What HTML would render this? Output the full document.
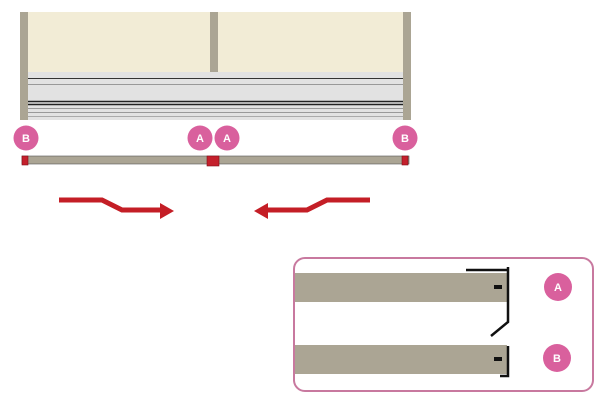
<!DOCTYPE html>
<html><head><style>
body{margin:0;width:603px;height:407px;background:#fff;overflow:hidden}
</style></head><body>
<svg width="603" height="407" viewBox="0 0 603 407" xmlns="http://www.w3.org/2000/svg" font-family="Liberation Sans, sans-serif">
<rect x="28" y="12" width="375" height="60" fill="#f2ecd6"/>
<rect x="28" y="72" width="375" height="48" fill="#e2e2e2"/>
<g stroke-width="1">
<line x1="28" y1="78.5" x2="403" y2="78.5" stroke="#333"/>
<line x1="28" y1="84.5" x2="403" y2="84.5" stroke="#999"/>
<line x1="28" y1="101.5" x2="403" y2="101.5" stroke="#222" stroke-width="1.5"/>
<line x1="28" y1="104.5" x2="403" y2="104.5" stroke="#222" stroke-width="1.5"/>
<line x1="28" y1="108.5" x2="403" y2="108.5" stroke="#999"/>
<line x1="28" y1="112.5" x2="403" y2="112.5" stroke="#999"/>
<line x1="28" y1="116.5" x2="403" y2="116.5" stroke="#aaa"/>
</g>
<rect x="20" y="12" width="8" height="108" fill="#aba594"/>
<rect x="403" y="12" width="8" height="108" fill="#aba594"/>
<rect x="210" y="12" width="8" height="60" fill="#aba594"/>
<g fill="#d9609d">
<circle cx="26" cy="138" r="12.5"/><circle cx="200" cy="138" r="12.5"/><circle cx="227" cy="138" r="12.5"/><circle cx="405" cy="138" r="12.5"/>
<circle cx="558" cy="287" r="14"/><circle cx="557" cy="358" r="14"/>
</g>
<g fill="#fff" font-size="11" font-weight="bold" text-anchor="middle">
<text x="26" y="142">B</text><text x="200" y="142">A</text><text x="227" y="142">A</text><text x="405" y="142">B</text>
<text x="558" y="291">A</text><text x="557" y="362">B</text>
</g>
<rect x="22" y="156" width="387" height="8" fill="#aba594" stroke="#555" stroke-width="0.6"/>
<g fill="#c4202c" stroke="#801018" stroke-width="0.6">
<rect x="22" y="156" width="6" height="9"/><rect x="402" y="156" width="6" height="9"/>
<rect x="207" y="156" width="12" height="10"/>
</g>
<g fill="none" stroke="#c41e26" stroke-width="5">
<polyline points="59,200 102,200 122,210 162,210"/>
<polyline points="370,200 327,200 307,210 266,210"/>
</g>
<polygon points="160,203 174,211 160,219" fill="#c41e26"/>
<polygon points="268,203 254,211 268,219" fill="#c41e26"/>
<rect x="294" y="258" width="299" height="133" rx="11" fill="none" stroke="#c8799f" stroke-width="2"/>
<rect x="295" y="273" width="212" height="29" fill="#aba594"/>
<rect x="295" y="345" width="212" height="29" fill="#aba594"/>
<g fill="none" stroke="#111" stroke-width="2.5">
<polyline points="466,270 508,270"/>
<polyline points="508,267 508,322 491,336"/>
<polyline points="508,346 508,376 500,376"/>
</g>
<g fill="#111"><rect x="494" y="285" width="8" height="4"/><rect x="494" y="357" width="8" height="4"/></g>
</svg>
</body></html>
